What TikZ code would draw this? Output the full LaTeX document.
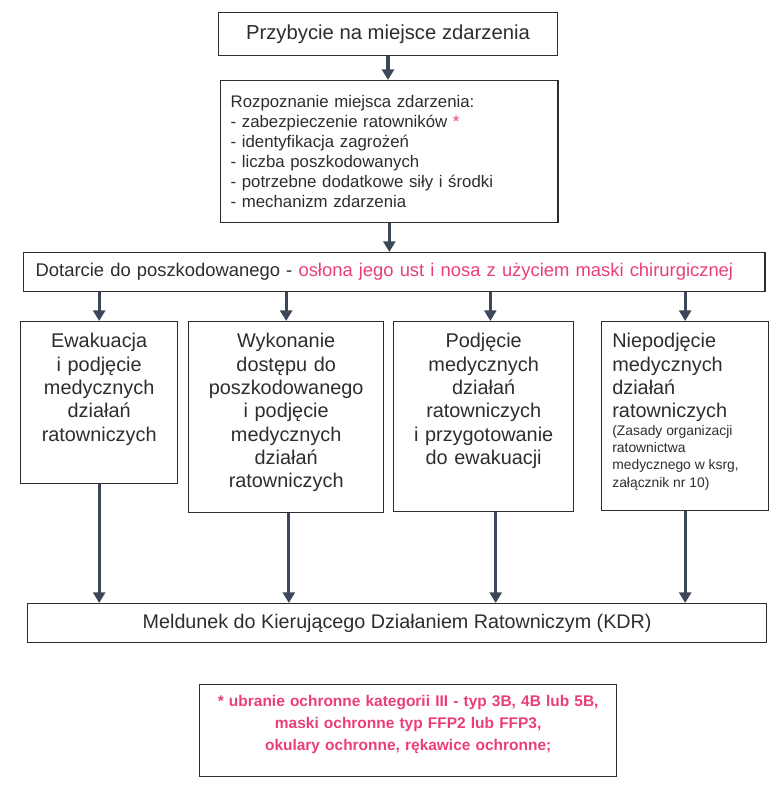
\documentclass[tikz,border=0pt]{standalone}
\usepackage{fontspec}
\setmainfont{Liberation Sans}
\usepackage{tikz}
\usetikzlibrary{arrows.meta}
\definecolor{ink}{RGB}{45,45,45}
\definecolor{alert}{RGB}{234,62,120}
\definecolor{arrowgray}{RGB}{60,72,90}
\tikzstyle{block} = [rectangle, draw=ink, line width=1pt, text=ink, anchor=north west, inner sep=4pt]
\tikzstyle{stage} = [block, align=center, inner ysep=9pt, text height=10.5pt, font=\fontsize{14.9}{17.5}\selectfont]
\tikzstyle{link} = [draw=arrowgray, line width=2.4pt, -{Triangle[width=9pt,length=8pt]}]

\begin{document}
\begin{tikzpicture}[x=0.75pt, y=-0.75pt]

        \useasboundingbox (0,0) rectangle (780,792);

        \node (przyb) [block, minimum width=254pt, minimum height=32pt, font=\fontsize{15.2}{18}\selectfont] at (218,12) {Przybycie na miejsce zdarzenia};

        \node (rozp) [block, minimum width=253pt, minimum height=106.5pt, text width=238pt, inner xsep=7.5pt, align=left, font=\fontsize{12.6}{15}\selectfont] at (220,80) {Rozpoznanie miejsca zdarzenia:\\- zabezpieczenie ratowników \textcolor{alert}{*}\\- identyfikacja zagrożeń\\- liczba poszkodowanych\\- potrzebne dodatkowe siły i środki\\- mechanizm zdarzenia};

        \node (dot) [block, minimum width=556pt, minimum height=29.25pt, text width=538pt, inner xsep=9pt, align=left, font=\fontsize{13.8}{16}\selectfont] at (23,252) {Dotarcie do poszkodowanego - \textcolor{alert}{osłona jego ust i nosa z użyciem maski chirurgicznej}};

        \node (ewak) [stage, text width=109.75pt, text depth=93pt] at (20,321) {Ewakuacja\\i podjęcie\\medycznych\\działań\\ratowniczych};
        \node (dost) [stage, text width=138.25pt, text depth=114.75pt] at (188,321) {Wykonanie\\dostępu do\\poszkodowanego\\i podjęcie\\medycznych\\działań\\ratowniczych};
        \node (podj) [stage, text width=127pt, text depth=114pt] at (393,321) {Podjęcie\\medycznych\\działań\\ratowniczych\\i przygotowanie\\do ewakuacji};
        \node (niep) [stage, align=left, inner xsep=8pt, text width=109.25pt, text depth=113.25pt] at (601,321) {Niepodjęcie\\medycznych\\działań\\ratowniczych\par
            {\fontsize{10.4}{13}\selectfont\spaceskip=0pt (Zasady organizacji\\ratownictwa\\medycznego w ksrg,\\załącznik nr 10)\par}};

        \node (meld) [block, minimum width=554.25pt, minimum height=29.25pt, font=\fontsize{14.8}{17}\selectfont] at (27,603) {Meldunek do Kierującego Działaniem Ratowniczym (KDR)};

        \node (uwagi) [block, text=alert, align=center, text width=304.75pt, inner ysep=8pt, text height=8.5pt, text depth=44.5pt, font=\bfseries\fontsize{11.6}{16.5}\selectfont] at (199,684) {* ubranie ochronne kategorii III - typ 3B, 4B lub 5B,\\maski ochronne typ FFP2 lub FFP3,\\okulary ochronne, rękawice ochronne;};

        \draw[link] (przyb.south) -- (przyb.south |- rozp.north);
        \draw[link] (rozp.south) -- (rozp.south |- dot.north);

        \draw[link] (ewak.north |- dot.south) -- (ewak.north);
        \draw[link] (dost.north |- dot.south) -- (dost.north);
        \draw[link] ([xshift=5pt]podj.north |- dot.south) -- ([xshift=5pt]podj.north);
        \draw[link] (niep.north |- dot.south) -- (niep.north);

        \draw[link] (ewak.south) -- (ewak.south |- meld.north);
        \draw[link] ([xshift=2pt]dost.south) -- ([xshift=2pt]dost.south |- meld.north);
        \draw[link] ([xshift=9pt]podj.south) -- ([xshift=9pt]podj.south |- meld.north);
        \draw[link] (niep.south) -- (niep.south |- meld.north);

    \end{tikzpicture}
\end{document}
